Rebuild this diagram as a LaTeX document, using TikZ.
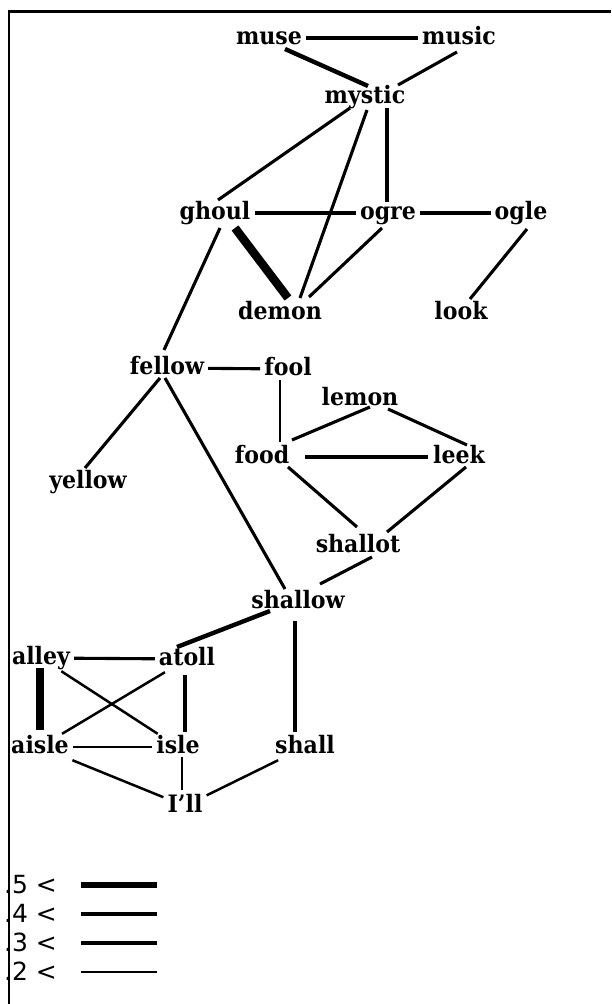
\documentclass[tikz,border=0pt]{standalone}
\usepackage{fontspec}
\setmainfont{DejaVu Serif}
\newfontfamily\wordfont[FakeStretch=0.92]{DejaVu Serif}
\newfontfamily\legendfont{DejaVu Sans}
\begin{document}
\begin{tikzpicture}[x=1pt,y=-1pt,
  word/.style={font=\wordfont\bfseries\fontsize{24}{26}\selectfont, text height=17pt,
    text depth=5pt, inner xsep=4pt, inner ysep=2pt, anchor=base},
  key/.style={font=\legendfont\fontsize{25}{28}\selectfont, inner sep=0pt,
    anchor=base west},
  wa/.style={line width=2.5pt},
  wb/.style={line width=3.1pt},
  wc/.style={line width=4.4pt},
  wd/.style={line width=6pt},
  we/.style={line width=8.5pt},
  frame/.style={line width=2.5pt}]
\useasboundingbox (0,0) rectangle (611,1004);

% frame: top rule and left rule
\coordinate (fbl) at (9,1004);
\coordinate (ftl) at (9,11.3);
\coordinate (ftr) at (611,11.3);
\draw[frame] (fbl) -- (ftl) -- (ftr);

% words (placed on their baselines)
\node[word] (muse)    at (269,44)  {muse};
\node[word] (music)   at (459,44)  {music};
\node[word] (mystic)  at (365,103) {mystic};
\node[word] (ghoul)   at (215,219) {ghoul};
\node[word] (ogre)    at (388,219) {ogre};
\node[word] (ogle)    at (521,219) {ogle};
\node[word] (demon)   at (280,319) {demon};
\node[word] (look)    at (461,319) {look};
\node[word] (fellow)  at (167,374) {fellow};
\node[word] (fool)    at (288,375) {fool};
\node[word] (lemon)   at (360,405) {lemon};
\node[word] (food)    at (262,463) {food};
\node[word] (leek)    at (459,463) {leek};
\node[word] (yellow)  at (88,488)  {yellow};
\node[word] (shallot) at (358,552) {shallot};
\node[word] (shallow) at (298,608) {shallow};
\node[word] (alley)   at (41,664)  {alley};
\node[word] (atoll)   at (187,665) {atoll};
\node[word] (aisle)   at (40,753)  {aisle};
\node[word] (isle)    at (178,753) {isle};
\node[word] (shall)   at (305,753) {shall};
\node[word] (ill)     at (185,812) {I’ll};

% links, weighted by line width
\draw[wc] (muse) -- (music);
\draw[wc] ([shift={(16,11)}]muse.center) -- ([shift={(3,-11)}]mystic.center);
\draw[wb] ([shift={(-2,14)}]music.center) -- ([shift={(33,-12)}]mystic.center);
\draw[wb] ([shift={(-15,11)}]mystic.center) -- ([shift={(3,-13)}]ghoul.center);
\draw[wb] ([shift={(2,13)}]mystic.center) -- ([shift={(20,-15)}]demon.center);
\draw[wb] ([shift={(22,11)}]mystic.center) -- ([shift={(-1,-11)}]ogre.center);
\draw[wb] (ghoul) -- (ogre);
\draw[wb] (ogre) -- (ogle);
\draw[we] ([shift={(20,15)}]ghoul.center) -- ([shift={(8,-15)}]demon.center);
\draw[wb] ([shift={(-6,15)}]ogre.center) -- ([shift={(29,-16)}]demon.center);
\draw[wb] ([shift={(6,16)}]ogle.center) -- ([shift={(9,-14)}]look.center);
\draw[wb] ([shift={(5,15)}]ghoul.center) -- ([shift={(-3,-18)}]fellow.center);
\draw[wb] (fellow) -- (fool);
\draw[wb] ([shift={(-7,10)}]fellow.center) -- ([shift={(-3,-14)}]yellow.center);
\draw[wb] ([shift={(-2,10)}]fellow.center) -- ([shift={(-13,-13)}]shallow.center);
\draw[wa] ([shift={(-8,11)}]fool.center) -- ([shift={(18,-15)}]food.center);
\draw[wb] ([shift={(10,8)}]lemon.center) -- ([shift={(30,-17)}]food.center);
\draw[wb] ([shift={(28,10)}]lemon.center) -- ([shift={(8,-12)}]leek.center);
\draw[wb] ([shift={(43,0)}]food.center) -- ([shift={(-31,0)}]leek.center);
\draw[wb] ([shift={(26,10)}]food.center) -- ([shift={(-1,-19)}]shallot.center);
\draw[wb] ([shift={(7,10)}]leek.center) -- ([shift={(29,-14)}]shallot.center);
\draw[wb] ([shift={(14,11)}]shallot.center) -- ([shift={(22,-18)}]shallow.center);
\draw[wc] ([shift={(-28,9)}]shallow.center) -- ([shift={(-10,-12)}]atoll.center);
\draw[wb] ([shift={(-3,19)}]shallow.center) -- ([shift={(-10,-15)}]shall.center);
\draw[wb] (alley) -- (atoll);
\draw[we] ([shift={(-1,10)}]alley.center) -- ([shift={(0,-17)}]aisle.center);
\draw[wa] (alley) -- (isle);
\draw[wa] (atoll) -- (aisle);
\draw[wb] ([shift={(-2,16)}]atoll.center) -- ([shift={(7,-15)}]isle.center);
\draw[wa] (aisle) -- (isle);
\draw[wa] (aisle) -- (ill);
\draw[wa] ([shift={(4,10)}]isle.center) -- ([shift={(-3,-16)}]ill.center);
\draw[wa] (shall) -- (ill);

% legend
\node[key] (k5) at (4,893) {.5 <};
\node[key] (k4) at (4,922) {.4 <};
\node[key] (k3) at (4,951) {.3 <};
\node[key] (k2) at (4,980) {.2 <};
\coordinate (k5a) at (81,885); \coordinate (k5b) at (157,885);
\coordinate (k4a) at (81,914); \coordinate (k4b) at (157,914);
\coordinate (k3a) at (81,943); \coordinate (k3b) at (157,943);
\coordinate (k2a) at (81,972); \coordinate (k2b) at (157,972);
\draw[wd] (k5a) -- (k5b);
\draw[wc] (k4a) -- (k4b);
\draw[wb] (k3a) -- (k3b);
\draw[wa] (k2a) -- (k2b);
\end{tikzpicture}
\end{document}
